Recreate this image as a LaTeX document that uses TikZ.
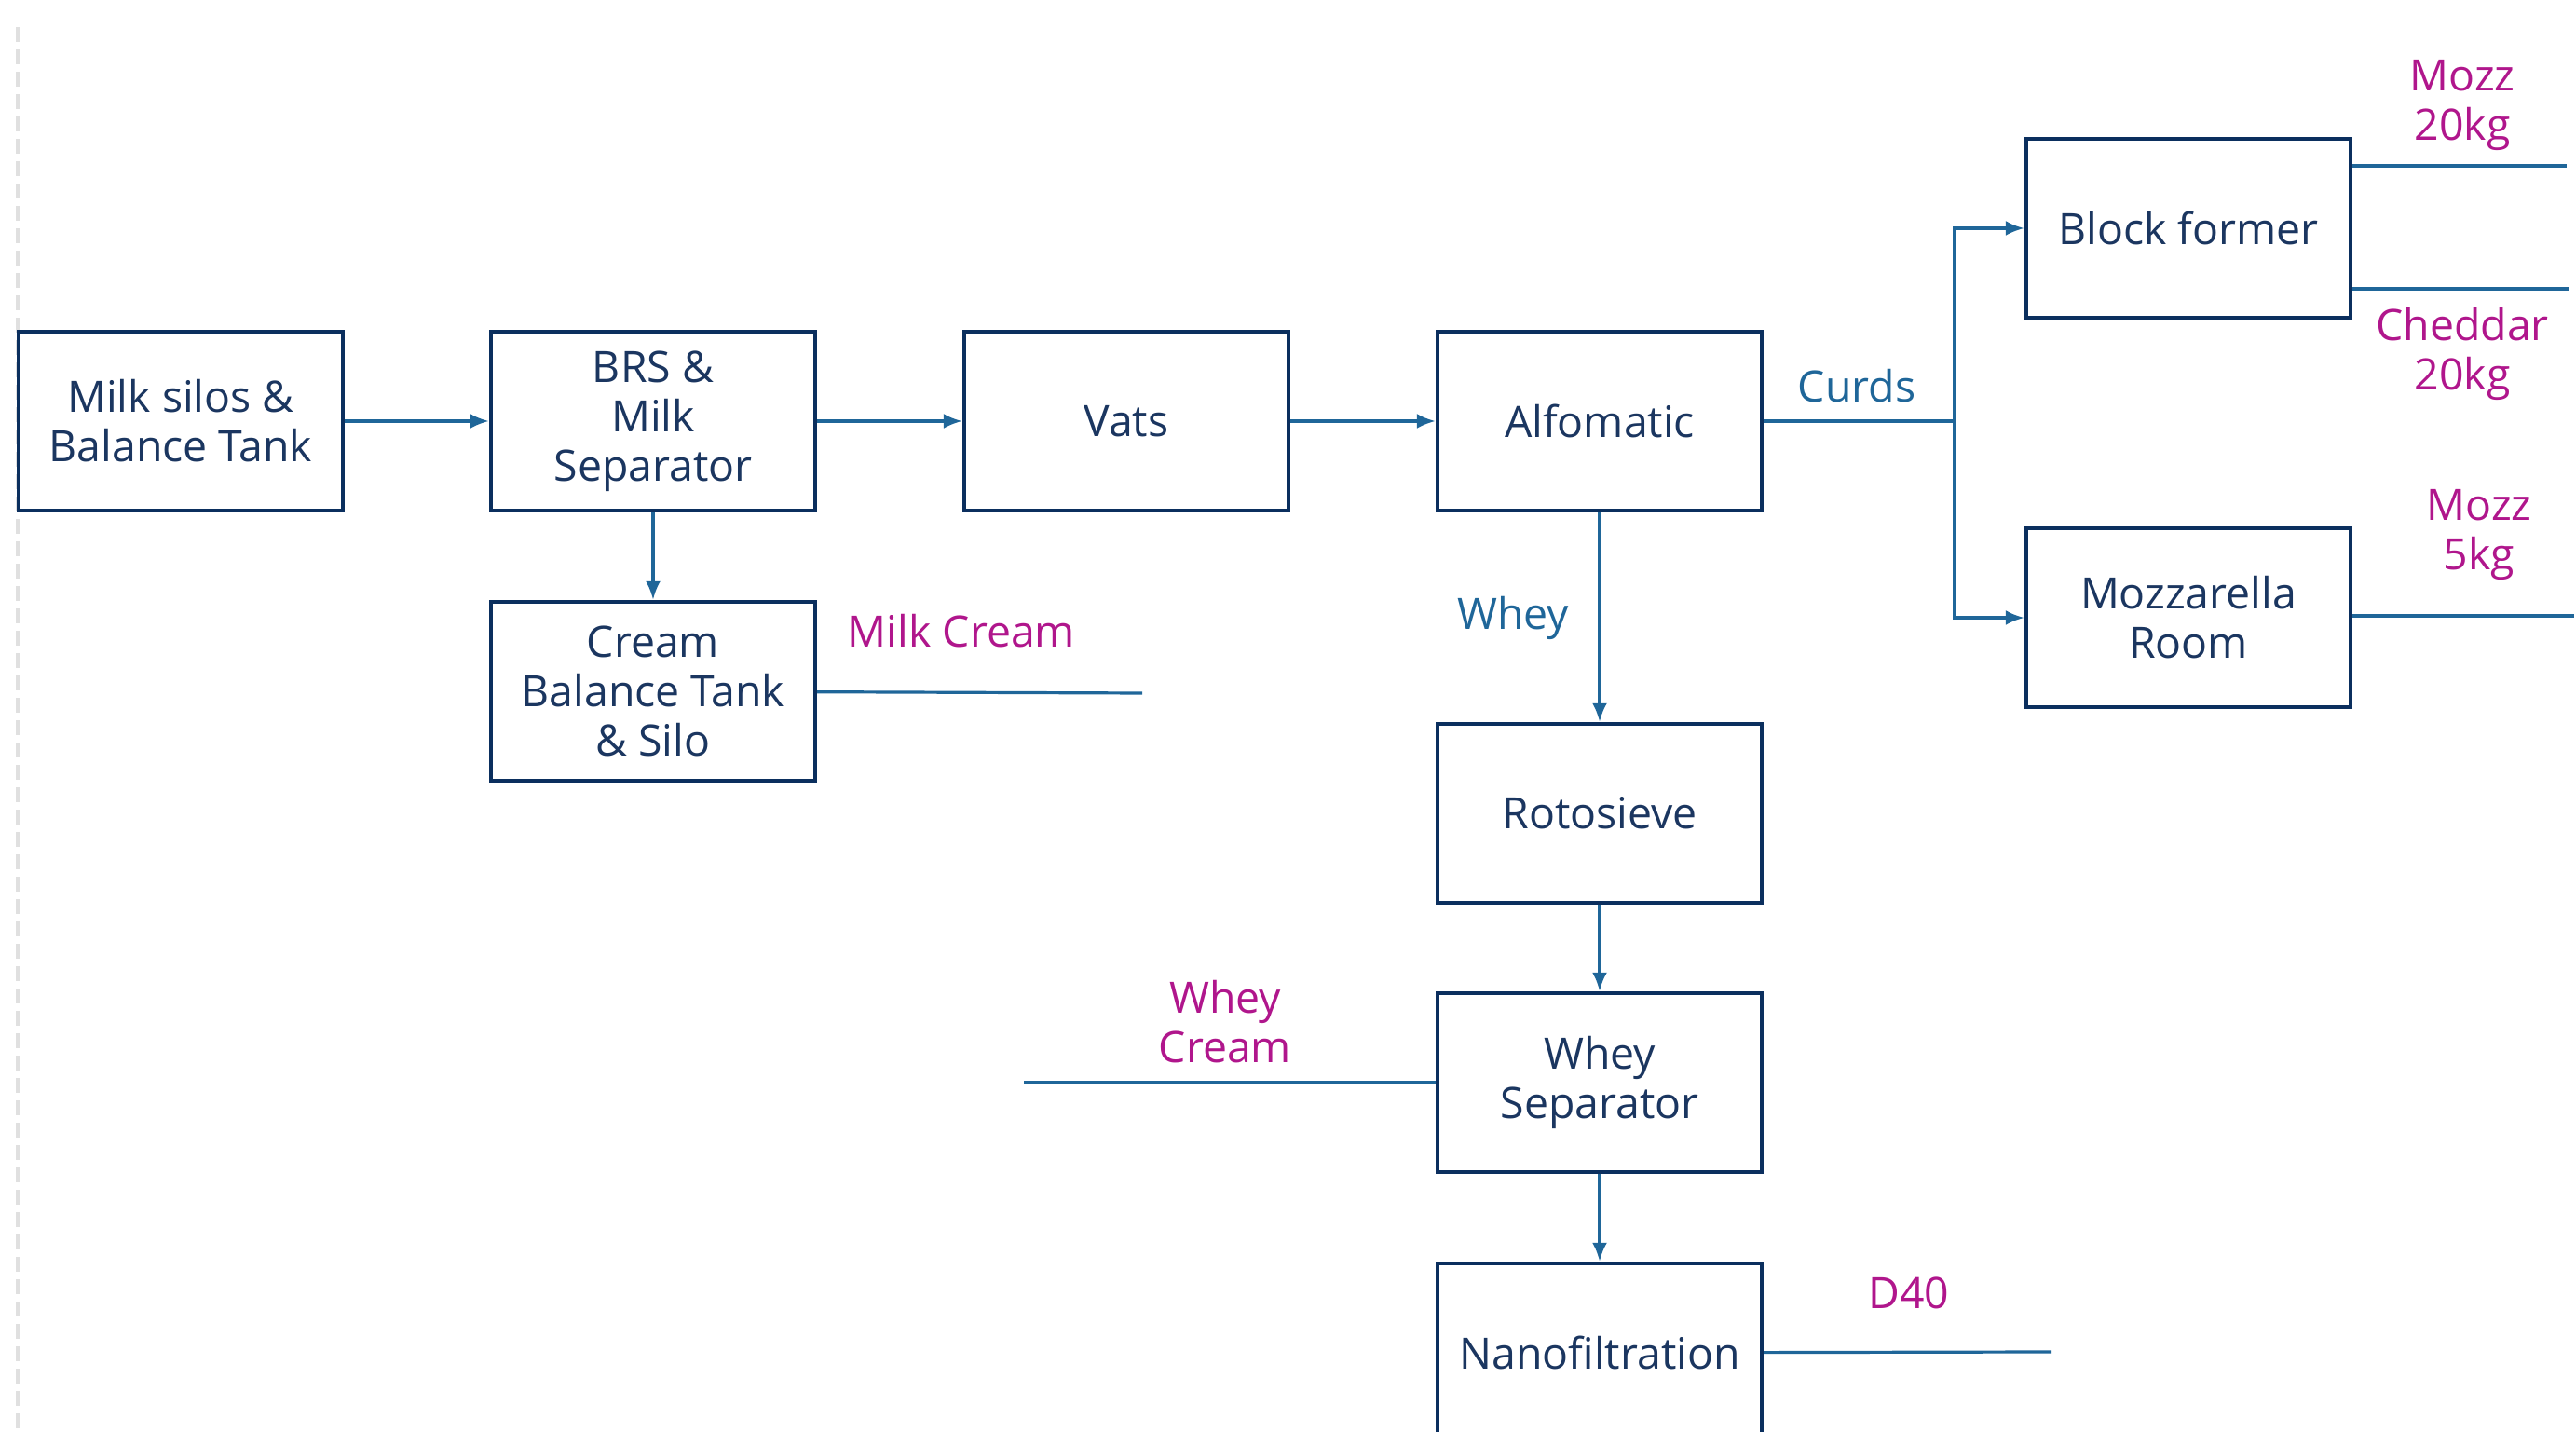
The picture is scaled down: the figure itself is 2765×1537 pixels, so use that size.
\documentclass[tikz,border=0pt]{standalone}
\usepackage{fontspec}
\setmainfont{Open Sans}
\usetikzlibrary{arrows.meta,shapes}
\definecolor{boxline}{HTML}{0B2F5E}
\definecolor{boxtext}{HTML}{1B3660}
\definecolor{flow}{HTML}{1F6699}
\definecolor{product}{HTML}{B0168C}
\tikzstyle{unit}=[draw=boxline,line width=1.1pt,minimum width=87pt,minimum height=48pt,inner sep=0pt,align=center,text=boxtext,font=\fontsize{11.6}{13.3}\selectfont]
\tikzstyle{feed} = [draw=flow,line width=0.8pt,-{Latex[length=5pt,width=4pt]}]
\tikzstyle{outlet} = [draw=flow,line width=0.8pt,-]
\tikzstyle{stream}=[text=flow,align=center,font=\fontsize{11.6}{13.3}\selectfont]
\tikzstyle{yield}=[text=product,align=center,font=\fontsize{11.6}{13.3}\selectfont]

\begin{document}
\begin{tikzpicture}[x=0.25pt,y=-0.25pt]
    \useasboundingbox (0,0) rectangle (2765,1537);
    \draw[black!12,line width=0.8pt,dash pattern=on 4pt off 2pt] (19,29) -- (19,1537);
    % First we draw the process units
    \foreach \pos/\name/\txt in {{(194,452)/silo/{Milk silos \&\\Balance Tank}},
        {(701,452)/brs/{BRS \&\\Milk\\Separator}}, {(1209,452)/vats/Vats},
        {(1717,452)/alfo/Alfomatic}, {(701,742)/cream/{Cream\\Balance Tank\\\& Silo}},
        {(1717,873)/roto/Rotosieve}, {(1717,1162)/wsep/{Whey\\Separator}},
        {(1717,1452)/nano/Nanofiltration}, {(2349,245)/block/Block former},
        {(2349,663)/mozz/{Mozzarella\\Room}}}
        \node[unit] (\name) at \pos {\txt};

    % Connect units with flows
    \foreach \source/ \dest in {silo/brs, brs/vats, vats/alfo}
        \path[feed] (\source) -- (\dest);
    \foreach \source/ \dest in {brs/cream, alfo/roto, roto/wsep, wsep/nano}
        \path[feed] (\source) -- (\dest);
    \coordinate (split) at (2098,452);
    \path[outlet] (alfo) -- (split);
    \path[feed] (split) |- (block);
    \path[feed] (split) |- (mozz);

    % Product streams leaving the plant
    \coordinate (mozzA) at (2755,178);
    \coordinate (chedA) at (2757,310);
    \coordinate (mozzB) at (2763,661);
    \coordinate (creamA) at (1226,744);
    \coordinate (wcreamA) at (1099,1162);
    \coordinate (dfortyA) at (2202,1451);
    \path[outlet] (mozzA -| block.east) -- (mozzA);
    \path[outlet] (chedA -| block.east) -- (chedA);
    \path[outlet] (mozzB -| mozz.east) -- (mozzB);
    \path[outlet] (cream) -- (creamA);
    \path[outlet] (wsep) -- (wcreamA);
    \path[outlet] (nano) -- (dfortyA);

    % Labels
    \node[stream] (curds) at (1993,414) {Curds};
    \node[stream] (whey) at (1624,663) {Whey};
    \node[yield] (milkcream) at (1032,677) {Milk Cream};
    \node[yield] (mozz20) at (2643,113) {Mozz\\20kg};
    \node[yield] (ched20) at (2643,380) {Cheddar\\20kg};
    \node[yield] (mozz5) at (2661,574) {Mozz\\5kg};
    \node[yield] (wheycream) at (1315,1097) {Whey\\Cream};
    \node[yield] (dforty) at (2049,1388) {D40};
\end{tikzpicture}
\end{document}
